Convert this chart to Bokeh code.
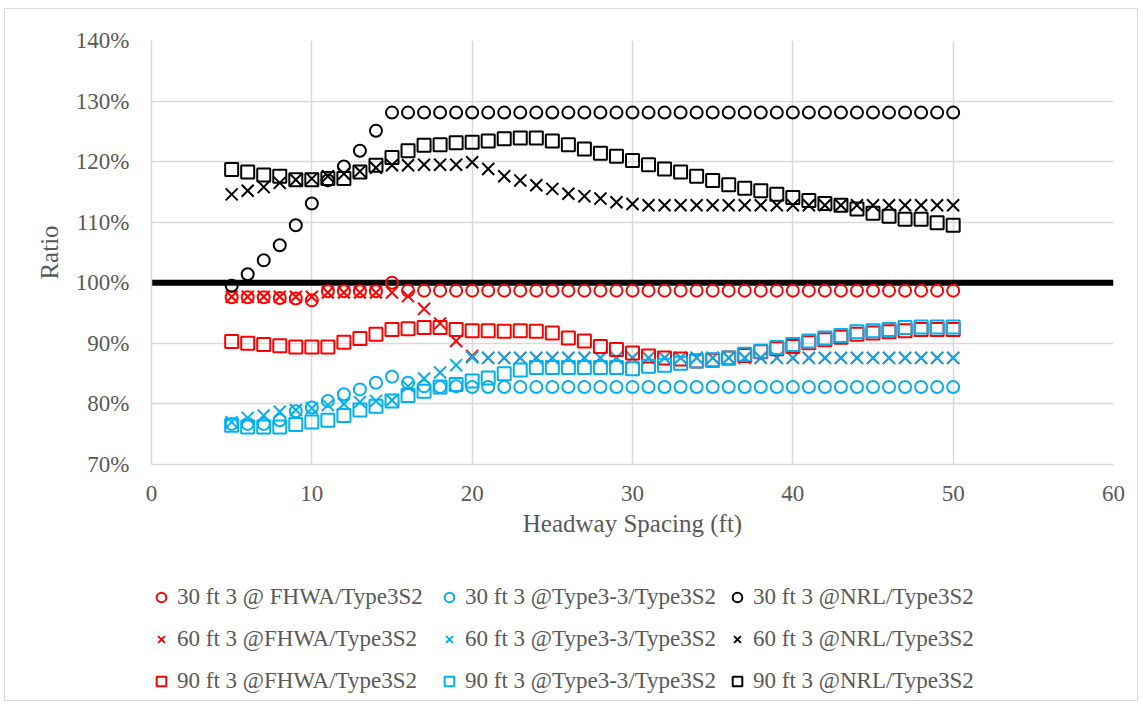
from bokeh.plotting import figure
from bokeh.layouts import column
from bokeh.models import Legend, LegendItem, PrintfTickFormatter, FixedTicker, Range1d
from bokeh.embed import file_html
from bokeh.resources import INLINE

# ---------------- data ----------------
spacing = list(range(5, 51))  # headway spacing (ft)

fhwa_30 = [97.6, 97.6, 97.6, 97.5, 97.4, 97.1, 98.6, 98.6, 98.6, 98.6, 100.0] + [98.7] * 35
fhwa_60 = [97.7, 97.7, 97.7, 97.7, 97.7, 97.7, 98.4, 98.4, 98.4, 98.4, 98.4,
           97.8, 95.7, 93.3, 90.4, 87.9] + [87.6] * 30
fhwa_90 = [90.3, 90.0, 89.8, 89.6, 89.4, 89.4, 89.4, 90.2, 90.8, 91.5, 92.3, 92.4, 92.6, 92.6,
           92.3, 92.1, 92.1, 92.0, 92.1, 92.0, 91.7, 90.9, 90.4, 89.5, 89.0, 88.4, 87.9, 87.6,
           87.4, 87.1, 87.2, 87.6, 88.0, 88.6, 89.1, 89.5, 90.1, 90.6, 91.0, 91.5, 91.7, 91.9,
           92.1, 92.3, 92.3, 92.3]

t33_30 = [76.7, 76.7, 76.7, 77.3, 78.8, 79.4, 80.5, 81.6, 82.4, 83.5, 84.5, 83.5, 82.9, 82.8,
          82.9] + [82.8] * 31
t33_60 = [77.0, 77.7, 78.1, 78.7, 79.0, 79.3, 79.8, 80.0, 80.3, 80.5, 80.6, 82.9, 84.2, 85.2,
          86.4, 87.7] + [87.6] * 30
t33_90 = [76.5, 76.2, 76.2, 76.2, 76.6, 77.0, 77.3, 78.1, 79.0, 79.6, 80.5, 81.4, 82.1, 82.8,
          83.2, 83.8, 84.3, 85.0, 85.6, 86.0, 86.0, 86.0, 86.0, 86.0, 86.0, 85.8, 86.2, 86.4,
          86.7, 87.1, 87.3, 87.6, 88.2, 88.7, 89.3, 89.8, 90.4, 90.9, 91.3, 91.9, 92.1, 92.3,
          92.6, 92.7, 92.7, 92.7]

nrl_30 = [99.5, 101.4, 103.7, 106.2, 109.5, 113.1, 116.9, 119.2, 121.8, 125.1] + [128.1] * 36
nrl_60 = [114.6, 115.2, 115.8, 116.5, 117.0, 117.2, 117.6, 118.0, 118.4, 119.0, 119.4, 119.4,
          119.5, 119.5, 119.5, 119.9, 118.8, 117.6, 116.9, 116.1, 115.5, 114.7, 114.3, 113.9,
          113.3, 113.0] + [112.8] * 20
nrl_90 = [118.7, 118.3, 117.8, 117.6, 117.0, 117.0, 117.2, 117.2, 118.3, 119.4, 120.7, 121.8,
          122.7, 122.8, 123.1, 123.2, 123.4, 123.8, 123.9, 123.9, 123.4, 122.8, 122.1, 121.4,
          120.9, 120.2, 119.5, 118.8, 118.3, 117.6, 116.9, 116.2, 115.6, 115.2, 114.6, 114.1,
          113.6, 113.1, 112.8, 112.2, 111.5, 111.0, 110.5, 110.5, 109.9, 109.5]

ref_x = [0, 60]
ref_y = [100, 100]

labels = [
    "30 ft 3 @ FHWA/Type3S2", "30 ft 3 @Type3-3/Type3S2", "30 ft 3 @NRL/Type3S2",
    "60 ft 3 @FHWA/Type3S2", "60 ft 3 @Type3-3/Type3S2", "60 ft 3 @NRL/Type3S2",
    "90 ft 3 @FHWA/Type3S2", "90 ft 3 @Type3-3/Type3S2", "90 ft 3 @NRL/Type3S2",
]
y_ticks = [70, 80, 90, 100, 110, 120, 130, 140]
x_ticks = [0, 10, 20, 30, 40, 50, 60]

# ---------------- figure ----------------
FONT = "Liberation Serif"
GRAY = "#595959"
RED = "#FF0000"
BLUE = "#00B0F0"
BLACK = "#000000"

W = 1132
p = figure(width=W, height=546, output_backend="svg", toolbar_location=None,
           x_range=Range1d(0, 60), y_range=Range1d(70, 140),
           min_border_left=146, min_border_right=24, min_border_top=31, min_border_bottom=91)
p.outline_line_color = None

for ax in (p.xaxis[0], p.yaxis[0]):
    ax.axis_line_color = "#d9d9d9"
    ax.axis_line_width = 1.5
    ax.major_tick_line_color = None
    ax.minor_tick_line_color = None
    ax.major_label_text_font = FONT
    ax.major_label_text_font_size = "23px"
    ax.major_label_text_color = GRAY
    ax.axis_label_text_font = FONT
    ax.axis_label_text_font_size = "25px"
    ax.axis_label_text_font_style = "normal"
    ax.axis_label_text_color = GRAY

p.xaxis.ticker = FixedTicker(ticks=x_ticks)
p.yaxis.ticker = FixedTicker(ticks=y_ticks)
p.yaxis.formatter = PrintfTickFormatter(format="%d%%")
p.xaxis.axis_label = "Headway Spacing (ft)"
p.yaxis.axis_label = "Ratio"
p.xaxis.major_label_standoff = 15
p.yaxis.major_label_standoff = 16
p.xaxis.axis_label_standoff = 6
p.yaxis.axis_label_standoff = 10

p.xgrid.grid_line_color = "#d9d9d9"
p.ygrid.grid_line_color = "#d9d9d9"
p.xgrid.grid_line_width = 1.5
p.ygrid.grid_line_width = 1.5

p.line(ref_x, ref_y, line_color=BLACK, line_width=6)

series = [
    (fhwa_30, "circle", RED, 12), (t33_30, "circle", BLUE, 12), (nrl_30, "circle", BLACK, 12),
    (fhwa_60, "x", RED, 17), (t33_60, "x", BLUE, 17), (nrl_60, "x", BLACK, 17),
    (fhwa_90, "square", RED, 13), (t33_90, "square", BLUE, 13), (nrl_90, "square", BLACK, 13),
]

# legend strip beneath the chart (separate canvas so nothing is clipped)
pl = figure(width=W, height=145, output_backend="svg", toolbar_location=None,
            x_axis_type=None, y_axis_type=None, min_border=0,
            x_range=Range1d(0, 1), y_range=Range1d(0, 1))
pl.outline_line_color = None
pl.xgrid.visible = False
pl.ygrid.visible = False

items = []
for (vals, marker, col, sz), lab in zip(series, labels):
    p.scatter(spacing, vals, marker=marker, size=sz, line_color=col, line_width=2,
              fill_color=None)
    # hidden proxy carrying the same data, only used to draw the legend swatch
    proxy = pl.scatter(spacing, vals, marker=marker, size=sz, line_color=col, line_width=2,
                       fill_color=None, visible=False)
    items.append(LegendItem(label=lab, renderers=[proxy]))

col_offsets = [-2, 286, 574]
for c in range(3):
    col_items = [items[c], items[c + 3], items[c + 6]]
    lg = Legend(items=col_items, orientation="vertical", location=(col_offsets[c], 6),
                label_text_font=FONT, label_text_font_size="23px", label_text_color=GRAY,
                glyph_width=24, glyph_height=24, spacing=16, label_standoff=4,
                padding=0, margin=0, border_line_color=None, background_fill_alpha=0,
                inactive_fill_alpha=0)
    pl.add_layout(lg, "center")

layout = column(p, pl, spacing=0, margin=(9, 0, 0, 5),
                styles={"outline": "1px solid #d9d9d9"})

open("out.html", "w").write(file_html(layout, INLINE))
